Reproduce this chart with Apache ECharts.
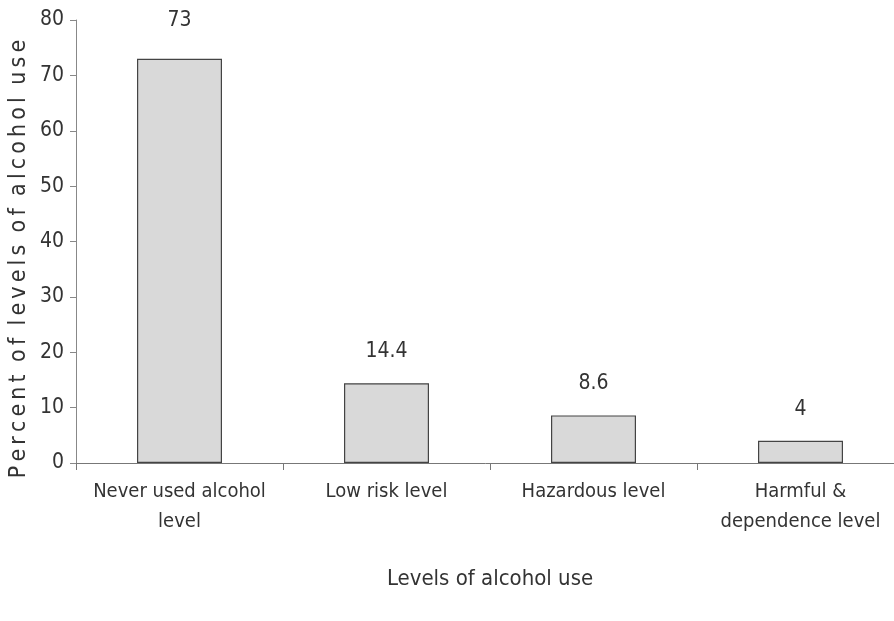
<!DOCTYPE html>
<html>
<head>
<meta charset="utf-8">
<style>
  html, body { margin: 0; padding: 0; background: #ffffff; }
  #chart { width: 894px; height: 621px; }
</style>
<script src="https://cdn.jsdelivr.net/npm/echarts@6/dist/echarts.min.js"></script>
</head>
<body>
<div id="chart"></div>
<script>
// Share of respondents at each level of alcohol use (%)
const categories = ['Never used alcohol\nlevel', 'Low risk level', 'Hazardous level', 'Harmful &\ndependence level'];
const percents = [73, 14.4, 8.6, 4];
const yTicks = [0, 10, 20, 30, 40, 50, 60, 70, 80];

const yName = 'Percent of levels of alcohol use';
const xName = 'Levels of alcohol use';

// spread letters out with thin spaces for the spaced-out axis caption
const spaced = s => s.split(' ').map(w => w.split('').join('\u2009')).join('\u2009\u2009\u2009');

const font = "'Liberation Sans Narrow', 'DejaVu Sans Condensed', 'Liberation Sans', sans-serif";
const ink = '#333333';

const chart = echarts.init(document.getElementById('chart'));
chart.setOption({
  animation: false,
  backgroundColor: '#ffffff',
  grid: { left: 76, top: 20, width: 828, height: 443, containLabel: false, outerBoundsMode: 'none' },
  graphic: [{
    // vertical caption of the value axis
    type: 'text',
    x: 19,
    y: 259,
    rotation: Math.PI / 2,
    style: {
      text: spaced(yName),
      fontFamily: font,
      fontSize: 23,
      fill: ink,
      align: 'center',
      verticalAlign: 'middle'
    }
  }],
  xAxis: {
    type: 'category',
    data: categories,
    name: xName,
    nameLocation: 'middle',
    nameGap: 105,
    nameTextStyle: { fontFamily: font, fontSize: 22, color: ink },
    axisLine: { lineStyle: { color: '#777', width: 1 } },
    axisTick: { show: true, length: 7, lineStyle: { color: '#777' } },
    axisLabel: { fontFamily: font, fontSize: 20, color: ink, margin: 14, lineHeight: 30, interval: 0 }
  },
  yAxis: {
    type: 'value',
    min: yTicks[0],
    max: yTicks[yTicks.length - 1],
    interval: 10,
    axisLine: { show: true, lineStyle: { color: '#888', width: 1 } },
    axisTick: { show: true, length: 6, lineStyle: { color: '#888' } },
    axisLabel: { fontFamily: font, fontSize: 21, color: ink, margin: 12 },
    splitLine: { show: false }
  },
  series: [{
    type: 'bar',
    data: percents.map((v, i) => i === 0
      ? { value: v, label: { distance: 28 } }
      : v),
    barWidth: 85,
    itemStyle: { color: '#d9d9d9', borderColor: '#444', borderWidth: 1.2 },
    label: {
      show: true,
      position: 'top',
      distance: 21,
      fontFamily: font,
      fontSize: 21,
      color: ink
    }
  }]
});
</script>
</body>
</html>
